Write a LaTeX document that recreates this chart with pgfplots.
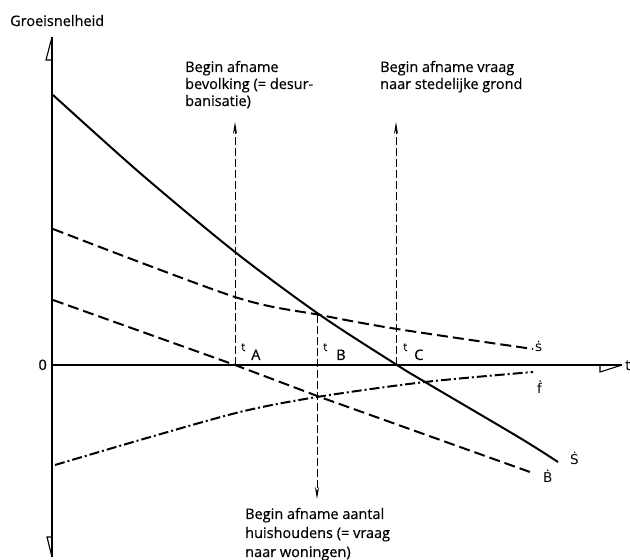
\documentclass[border=0pt]{standalone}
\usepackage{fontspec}
\setmainfont{Open Sans}[FakeBold=0.4]
\newfontfamily\dv{DejaVu Sans}
\usepackage{pgfplots}
\pgfplotsset{compat=1.18}
\usetikzlibrary{arrows.meta}
\newcommand{\lf}{\fontsize{14.5}{17}\selectfont\addfontfeatures{FakeBold=0.4}}
\begin{document}
\begin{tikzpicture}
\begin{axis}[scale only axis, width=630pt, height=560pt,
  xmin=0, xmax=630, ymin=-195, ymax=365, hide axis, clip=false]
% axes
\addplot[black, line width=1.2pt] coordinates {(52,-192) (52,328)};
\addplot[black, line width=1.2pt] coordinates {(52,0) (622,0)};
\addplot[black, line width=1.1pt] coordinates {(52,328) (46,305) (52,305)};
\addplot[black, line width=1.1pt] coordinates {(52,-192) (47,-172) (52,-172)};
\addplot[black, line width=1.1pt] coordinates {(600,0) (600,-7) (622,0)};
% S (solid)
\addplot[black, line width=2pt, smooth] coordinates {(53,270) (140,192) (235,113) (320,50) (397,0) (425,-17) (520,-73) (558,-97)};
% s (dashed)
\addplot[black, line width=2pt, smooth, dash pattern=on 11pt off 5pt] coordinates {(53,136) (235,68) (320,50) (397,36) (533,16)};
% B (dashed)
\addplot[black, line width=2pt, dash pattern=on 11pt off 5pt] coordinates {(53,65) (235,0) (320,-32) (530,-107)};
% f (dash-dot)
\addplot[black, line width=2pt, smooth, dash pattern=on 10pt off 3pt on 2pt off 3pt] coordinates {(55,-100) (140,-75) (240,-47) (317,-32) (425,-17) (533,-7)};
% vertical arrows
\addplot[black, line width=0.9pt, dash pattern=on 8pt off 3pt, -{Stealth[length=12pt,width=4pt]}] coordinates {(235,0) (235,243)};
\addplot[black, line width=0.9pt, dash pattern=on 8pt off 3pt, -{Stealth[length=12pt,width=4pt]}] coordinates {(396,0) (396,243)};
\addplot[black, line width=0.9pt, dash pattern=on 8pt off 3pt, -{Stealth[length=12pt,width=4pt]}] coordinates {(317,50) (317,-134)};
% texts
\node[anchor=base west, inner sep=0pt] at (axis cs:10,339) {\lf Groeisnelheid};
\node[anchor=base west, inner sep=0pt] at (axis cs:185,293) {\lf Begin afname};
\node[anchor=base west, inner sep=0pt] at (axis cs:185,276) {\lf bevolking (= desur-};
\node[anchor=base west, inner sep=0pt] at (axis cs:185,259) {\lf banisatie)};
\node[anchor=base west, inner sep=0pt] at (axis cs:380,293) {\lf Begin afname vraag};
\node[anchor=base west, inner sep=0pt] at (axis cs:380,276) {\lf naar stedelijke grond};
\node[anchor=base west, inner sep=0pt] at (axis cs:245,-154) {\lf Begin afname aantal};
\node[anchor=base west, inner sep=0pt] at (axis cs:245,-173) {\lf huishoudens (= vraag};
\node[anchor=base west, inner sep=0pt] at (axis cs:245,-192) {\lf naar woningen)};
\node[anchor=base east, inner sep=0pt] at (axis cs:47,-5) {\lf 0};
\node[anchor=base west, inner sep=0pt] at (axis cs:625,-5) {\lf t};
% curve labels
\node[anchor=base west, inner sep=0pt] at (axis cs:535,13) {\dv\fontsize{13.5}{16}\selectfont ṡ};
\node[anchor=base west, inner sep=0pt] at (axis cs:537,-29) {\dv\fontsize{13.5}{16}\selectfont ḟ};
\node[anchor=base west, inner sep=0pt] at (axis cs:570,-100) {\dv\fontsize{13.5}{16}\selectfont Ṡ};
\node[anchor=base west, inner sep=0pt] at (axis cs:543,-118) {\dv\fontsize{13.5}{16}\selectfont Ḃ};
% t labels
\node[anchor=base west, inner sep=0pt] at (axis cs:241,5) {\lf\raisebox{9pt}{\fontsize{11.5}{11.5}\selectfont t}\hspace{6pt}A};
\node[anchor=base west, inner sep=0pt] at (axis cs:323,5) {\lf\raisebox{9pt}{\fontsize{11.5}{11.5}\selectfont t}\hspace{9pt}B};
\node[anchor=base west, inner sep=0pt] at (axis cs:403,5) {\lf\raisebox{9pt}{\fontsize{11.5}{11.5}\selectfont t}\hspace{7pt}C};
\end{axis}
\pgfresetboundingbox
\path (0,0) rectangle (630pt,560pt);
\end{tikzpicture}
\end{document}
